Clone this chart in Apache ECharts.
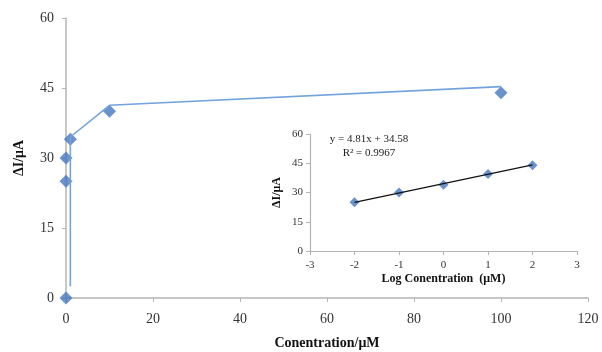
<!DOCTYPE html>
<html>
<head>
<meta charset="utf-8">
<script src="https://cdn.jsdelivr.net/npm/echarts@6/dist/echarts.min.js"></script>
<style>
  html, body { margin: 0; padding: 0; background: #fff; }
  #myChart { width: 602px; height: 352px; }
</style>
</head>
<body>
<div id="myChart"></div>
<script>
// main plot: concentration (uM) vs current change
var concPoints = [0, 0, 0, 1, 10, 100];
var currentPoints = [0, 25, 30, 34, 40, 44];
// the connecting line in the original is drawn slightly off the markers
var lineConc = [1, 1, 10, 100];
var lineCurrent = [2.5, 34.5, 41.3, 45.3];

// inset: log concentration
var logConc = [-2, -1, 0, 1, 2];
var logCurrent = [25, 30, 34, 39.5, 44];
var fitSlope = 4.81;
var fitIntercept = 34.58;
var fitText = ["y = 4.81x + 34.58", "R\u00b2 = 0.9967"];

var serif = "Liberation Serif";
var axisGrey = "#b4b4b4";
var markerBlue = "#4677c0";
var lineBlue = "#72a3dc";

function pairs(xs, ys) {
  var out = [];
  for (var i = 0; i < xs.length; i++) out.push([xs[i], ys[i]]);
  return out;
}

var fitLine = [
  [logConc[0], fitSlope * logConc[0] + fitIntercept],
  [logConc[logConc.length - 1], fitSlope * logConc[logConc.length - 1] + fitIntercept]
];

function valueAxis(opts) {
  return Object.assign({
    type: "value",
    splitLine: { show: false },
    axisLine: { show: true, onZero: false, lineStyle: { color: axisGrey, width: 1.5 } },
    axisTick: { show: true, inside: false, length: 4, lineStyle: { color: axisGrey } },
    axisLabel: { color: "#333", fontFamily: serif, fontSize: 14 },
    nameLocation: "middle",
    nameTextStyle: { color: "#111", fontFamily: serif, fontWeight: "bold", fontSize: 14 }
  }, opts);
}

var insetLine = { show: true, onZero: false, lineStyle: { color: axisGrey, width: 1.2 } };
var insetName = { color: "#111", fontFamily: serif, fontWeight: "bold", fontSize: 12 };

var myChart = echarts.init(document.getElementById("myChart"));
myChart.setOption({
  animation: false,
  grid: [
    { left: 66, right: 14, top: 18, bottom: 54, outerBoundsMode: "none" },
    { left: 310, right: 25, top: 134, bottom: 101, z: 5, outerBoundsMode: "none" }
  ],
  xAxis: [
    valueAxis({
      gridIndex: 0, min: 0, max: 120, interval: 20,
      name: "Conentration/\u03bcM", nameGap: 38,
      axisLabel: { color: "#333", fontFamily: serif, fontSize: 14, margin: 14 }
    }),
    valueAxis({
      gridIndex: 1, min: -3, max: 3, interval: 1,
      name: "Log Conentration  (\u03bcM)", nameGap: 22,
      axisLine: insetLine, nameTextStyle: insetName,
      axisLabel: { color: "#333", fontFamily: serif, fontSize: 11, margin: 9 }
    })
  ],
  yAxis: [
    valueAxis({
      gridIndex: 0, min: 0, max: 60, interval: 15,
      name: "\u0394I/\u03bcA", nameGap: 40,
      axisLabel: { color: "#333", fontFamily: serif, fontSize: 14, margin: 12 }
    }),
    valueAxis({
      gridIndex: 1, min: 0, max: 60, interval: 15,
      name: "\u0394I/\u03bcA", nameGap: 27,
      axisLine: insetLine, nameTextStyle: insetName,
      axisLabel: { color: "#333", fontFamily: serif, fontSize: 11, margin: 7 }
    })
  ],
  graphic: [{
    type: "text",
    x: 369,
    y: 132,
    z: 10,
    style: {
      text: fitText.join("\n"),
      fill: "#222",
      font: "11px " + serif,
      align: "center",
      lineHeight: 14
    }
  }],
  series: [
    {
      type: "line",
      xAxisIndex: 0, yAxisIndex: 0,
      data: pairs(lineConc, lineCurrent),
      showSymbol: false,
      symbol: "none",
      lineStyle: { color: lineBlue, width: 1.6 }
    },
    {
      type: "scatter",
      xAxisIndex: 0, yAxisIndex: 0,
      data: pairs(concPoints, currentPoints),
      symbol: "diamond",
      symbolSize: [13, 13],
      itemStyle: { color: markerBlue }
    },
    {
      type: "line",
      xAxisIndex: 1, yAxisIndex: 1,
      data: fitLine,
      symbol: "none",
      lineStyle: { color: "#111", width: 1.2 }
    },
    {
      type: "scatter",
      xAxisIndex: 1, yAxisIndex: 1,
      data: pairs(logConc, logCurrent),
      symbol: "diamond",
      symbolSize: [10, 10],
      itemStyle: { color: markerBlue }
    }
  ]
});
</script>
</body>
</html>
